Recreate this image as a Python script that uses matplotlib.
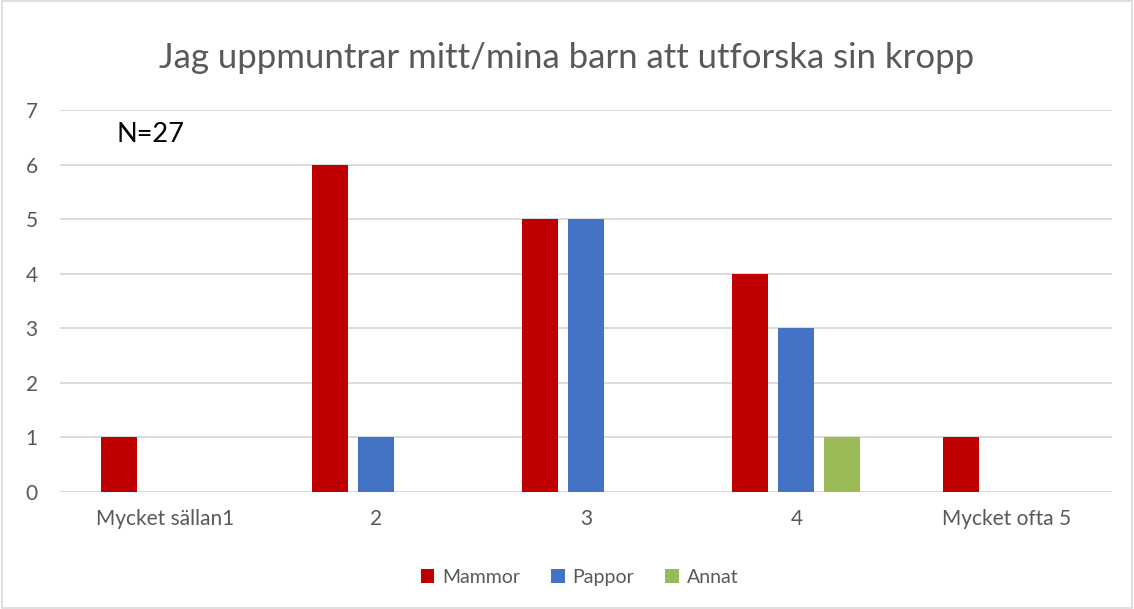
import numpy as np
import matplotlib.pyplot as plt
from matplotlib.patches import Rectangle

categories = ["Mycket sällan1", "2", "3", "4", "Mycket ofta 5"]
series = ["Mammor", "Pappor", "Annat"]
mammor = [1, 6, 5, 4, 1]
pappor = [0, 1, 5, 3, 0]
annat = [0, 0, 0, 1, 0]
colors = ["#c00000", "#4472c4", "#9bbb59"]

plt.rcParams['font.family'] = ['Lato', 'DejaVu Sans']

fig = plt.figure(figsize=(11.34, 6.09), dpi=100)
ax = fig.add_axes([0.0529, 0.1921, 0.9277, 0.6273])

x = np.arange(len(categories))
width = 0.171
step = 0.219
for i, (name, vals) in enumerate(zip(series, [mammor, pappor, annat])):
    vals = np.array(vals, dtype=float)
    mask = vals > 0
    ax.bar(x[mask] + (i - 1) * step, vals[mask], width, color=colors[i], label=name, zorder=3)

ax.set_xlim(-0.5, len(categories) - 0.5)
ax.set_ylim(0, 7)
ax.set_yticks(range(8))
ax.set_xticks(x)
ax.set_xticklabels(categories)
ax.grid(axis='y', color='#d9d9d9', linewidth=1.3, zorder=0)
for s in ax.spines.values():
    s.set_visible(False)
ax.tick_params(axis='both', length=0, labelsize=15, colors='#595959')
ax.tick_params(axis='x', pad=12)
ax.tick_params(axis='y', pad=16)

fig.text(0.5, 0.905, "Jag uppmuntrar mitt/mina barn att utforska sin kropp",
         ha='center', va='center', fontsize=25, color='#595959')
ax.text(0.054, 0.935, "N=27", transform=ax.transAxes, fontsize=19.5, color='black',
        ha='left', va='center')

ax.legend(loc='center', bbox_to_anchor=(0.511, 0.052), bbox_transform=fig.transFigure,
          ncol=3, frameon=False, fontsize=14, labelcolor='#595959',
          handlelength=0.7, handleheight=0.7, handletextpad=0.4, columnspacing=1.6)

fig.patches.append(Rectangle((0.002, 0.002), 0.996, 0.996, transform=fig.transFigure,
                             fill=False, edgecolor='#d9d9d9', linewidth=1.2))

fig.savefig("out.png", dpi=100)
